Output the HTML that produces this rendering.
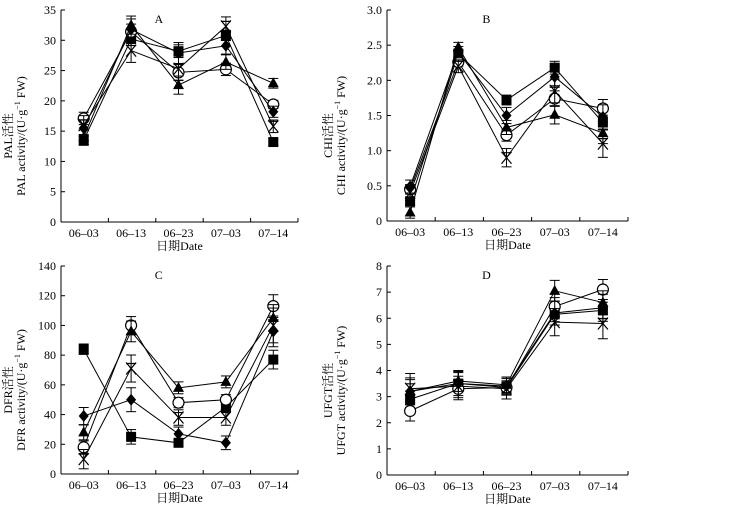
<!DOCTYPE html>
<html><head><meta charset="utf-8">
<style>
html,body{margin:0;padding:0;background:#fff;}
svg{display:block;font-family:"Liberation Serif","Noto Serif CJK SC",serif;}
</style></head>
<body>
<svg id="chart" width="729" height="515" viewBox="0 0 729 515" xmlns="http://www.w3.org/2000/svg"></svg>
<script>
const categories = ["06\u201303","06\u201313","06\u201323","07\u201303","07\u201314"];
const seriesNames = ["square","circle","triangle","diamond","cross"];
// Panel A (PAL)
const aSquare = [13.5,30.2,28.2,30.8,13.2];
const aCircle = [17.1,31.4,24.7,25.2,19.4];
const aTriangle = [14.0,32.5,22.6,26.4,22.9];
const aDiamond = [15.5,31.8,27.9,29.1,18.2];
const aCross = [16.0,28.3,25.3,32.3,15.8];
const aErr = [1.2,1.5,1.5,1.2,0.8];
const aTicks = [0,5,10,15,20,25,30,35];
// Panel B (CHI)
const bSquare = [0.28,2.38,1.72,2.18,1.40];
const bCircle = [0.45,2.26,1.22,1.74,1.60];
const bTriangle = [0.12,2.47,1.33,1.51,1.25];
const bDiamond = [0.49,2.40,1.50,2.05,1.48];
const bCross = [0.40,2.20,0.90,1.85,1.10];
const bErr = [0.08,0.07,0.1,0.13,0.15];
const bTicks = [0,0.5,1.0,1.5,2.0,2.5,3.0];
const bTickLabels = ["0","0.5","1.0","1.5","2.0","2.5","3.0"];
// Panel C (DFR)
const cSquare = [84,25,21,45,77];
const cCircle = [18,100,48,50,113];
const cTriangle = [28,96,58,62,105];
const cDiamond = [39,50,27,21,96];
const cCross = [10,71,38,38,100];
const cErr = [5,7,4,4,9];
const cTicks = [0,20,40,60,80,100,120,140];
// Panel D (UFGT)
const dSquare = [2.9,3.5,3.35,6.15,6.3];
const dCircle = [2.45,3.3,3.35,6.45,7.1];
const dTriangle = [3.2,3.6,3.45,7.05,6.6];
const dDiamond = [3.2,3.5,3.4,6.2,6.4];
const dCross = [3.3,3.4,3.3,5.85,5.8];
const dErr = [0.45,0.4,0.3,0.4,0.45];
const dTicks = [0,1,2,3,4,5,6,7,8];

const NS="http://www.w3.org/2000/svg";
const svg=document.getElementById('chart');
function mk(tag,attrs,parent){const e=document.createElementNS(NS,tag);for(const k in attrs)e.setAttribute(k,attrs[k]);(parent||svg).appendChild(e);return e;}

function panel(cfg){
  const g=mk('g',{});
  
  
  const x0=cfg.x0,x1=cfg.x1,yTop=cfg.yTop,yZero=cfg.yZero,ymax=cfg.ymax;
  const band=(x1-x0)/categories.length;
  const xs=i=>x0+band*(i+0.5)-1;
  const ys=v=>yZero-(v/ymax)*(yZero-yTop);
  const ya=mk('line',{x1:x0,y1:yTop,x2:x0,y2:yZero,stroke:'#000','stroke-width':1},g);
  
  const xa=mk('line',{x1:x0,y1:yZero,x2:x1,y2:yZero,stroke:'#000','stroke-width':1},g);
  
  cfg.ticks.forEach((t,i)=>{
    const y=ys(t);
    mk('line',{x1:x0,y1:y,x2:x0+4,y2:y,stroke:'#000'},g);
    const tx=mk('text',{x:x0-5,y:y+4,'font-size':12,'text-anchor':'end'},g);
    tx.textContent=cfg.tickLabels?cfg.tickLabels[i]:String(t);
    
  });
  categories.forEach((c,i)=>{
    const xt=x0+band*(i+1);
    mk('line',{x1:xt,y1:yZero,x2:xt,y2:yZero-4,stroke:'#000'},g);
    const tx=mk('text',{x:xs(i),y:yZero+15,'font-size':12,'text-anchor':'middle'},g);
    tx.textContent=c;
    
  });
  const xt=mk('text',{x:(x0+x1)/2,y:yZero+28,'font-size':12,'text-anchor':'middle'},g);
  xt.textContent='日期Date';
  
  const pl=mk('text',{x:x0+band*2+3,y:yTop+13,'font-size':12,'text-anchor':'middle'},g);
  pl.textContent=cfg.letter;
  
  const cy=(yTop+yZero)/2+20;
  const l1=mk('text',{x:0,y:0,'font-size':12,'text-anchor':'middle',transform:`translate(${cfg.lx+4},${cy}) rotate(-90)`},g);
  l1.textContent=cfg.enz+'活性';
  
  const l2=mk('text',{x:0,y:0,'font-size':12,'text-anchor':'middle',transform:`translate(${cfg.lx+17},${cy}) rotate(-90)`},g);
  l2.innerHTML=cfg.enz+' activity/(U·g<tspan dy="-5" font-size="8">−1</tspan><tspan dy="5"> FW)</tspan>';
  
  cfg.series.forEach((vals,si)=>{
    const sg=mk('g',{},g);
    
    
    const pts=vals.map((v,i)=>xs(i)+','+ys(v)).join(' ');
    mk('polyline',{points:pts,fill:'none',stroke:'#000','stroke-width':1},sg);
    vals.forEach((v,i)=>{
      const x=xs(i),y=ys(v),e=cfg.err[i]*(0.7+0.15*si);
      const yh=ys(v+e),yl=ys(Math.max(0,v-e));
      mk('line',{x1:x,y1:yh,x2:x,y2:yl,stroke:'#000'},sg);
      mk('line',{x1:x-5,y1:yh,x2:x+5,y2:yh,stroke:'#000'},sg);
      mk('line',{x1:x-5,y1:yl,x2:x+5,y2:yl,stroke:'#000'},sg);
      let m;
      const s=seriesNames[si];
      if(s==='square')m=mk('rect',{x:x-5,y:y-5,width:10,height:10,fill:'#000'},sg);
      else if(s==='circle')m=mk('circle',{cx:x,cy:y,r:5.5,fill:'#fff',stroke:'#000','stroke-width':1.2},sg);
      else if(s==='triangle')m=mk('polygon',{points:`${x},${y-6} ${x+5.5},${y+4} ${x-5.5},${y+4}`,fill:'#000'},sg);
      else if(s==='diamond')m=mk('polygon',{points:`${x},${y-6} ${x+5},${y} ${x},${y+6} ${x-5},${y}`,fill:'#000'},sg);
      else {m=mk('path',{d:`M${x-5},${y-6}L${x+5},${y+6}M${x+5},${y-6}L${x-5},${y+6}M${x-5},${y-5}H${x+5}`,stroke:'#000',fill:'none','stroke-width':1.2},sg);}
      
      
    });
  });
}
panel({name:'panel-a-pal',letter:'A',enz:'PAL',x0:61,x1:298,yTop:10,yZero:222,ymax:35,ticks:aTicks,lx:8,err:aErr,series:[aSquare,aCircle,aTriangle,aDiamond,aCross]});
panel({name:'panel-b-chi',letter:'B',enz:'CHI',x0:387,x1:628,yTop:10,yZero:221,ymax:3,ticks:bTicks,tickLabels:bTickLabels,lx:328,err:bErr,series:[bSquare,bCircle,bTriangle,bDiamond,bCross]});
panel({name:'panel-c-dfr',letter:'C',enz:'DFR',x0:61,x1:298,yTop:266,yZero:474,ymax:140,ticks:cTicks,lx:8,err:cErr,series:[cSquare,cCircle,cTriangle,cDiamond,cCross]});
panel({name:'panel-d-ufgt',letter:'D',enz:'UFGT',x0:387,x1:628,yTop:266,yZero:475,ymax:8,ticks:dTicks,lx:328,err:dErr,series:[dSquare,dCircle,dTriangle,dDiamond,dCross]});
</script>
</body></html>
